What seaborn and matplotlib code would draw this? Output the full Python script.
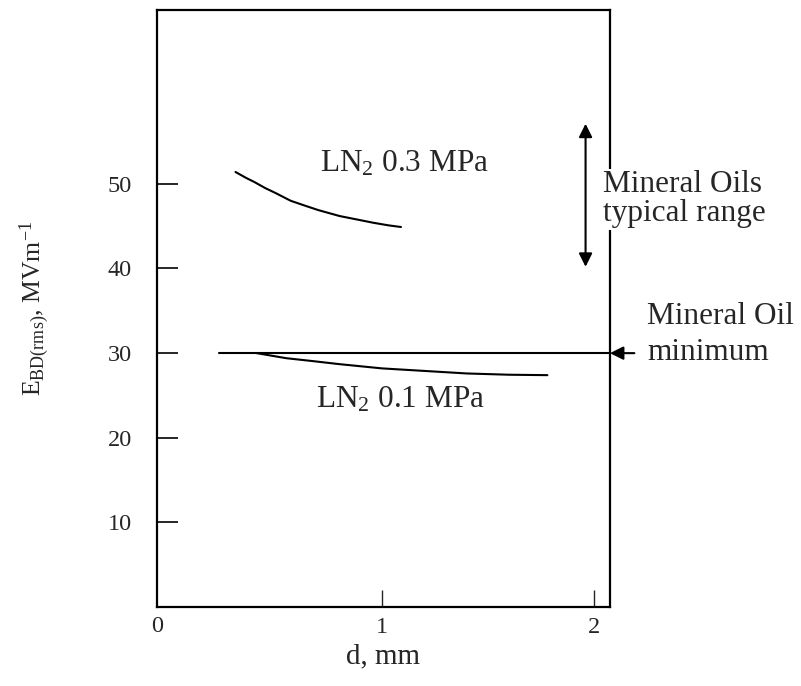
import numpy as np
import pandas as pd
import matplotlib
matplotlib.use("Agg")
import matplotlib.pyplot as plt
import seaborn as sns

# curves
d_03 = [0.31, 0.36, 0.40, 0.45, 0.50, 0.57, 0.64, 0.70, 0.80, 0.88, 0.96, 1.03, 1.09]
e_03 = [51.4, 50.7, 50.2, 49.5, 48.9, 48.0, 47.4, 46.9, 46.2, 45.8, 45.4, 45.1, 44.9]
d_01 = [0.41, 0.48, 0.55, 0.66, 0.80, 0.92, 1.00, 1.20, 1.40, 1.60, 1.78]
e_01 = [30.0, 29.7, 29.4, 29.1, 28.7, 28.4, 28.2, 27.9, 27.6, 27.45, 27.4]
oil_min = 30.0
oil_min_start = 0.23
oil_range = [40.2, 57.1]
oil_range_x = 1.96
yticks = [10, 20, 30, 40, 50]
xticks = [1, 2]

sns.set_theme(style="white")
plt.rcParams['font.family'] = ['Liberation Serif', 'DejaVu Serif']
plt.rcParams['mathtext.fontset'] = 'custom'
plt.rcParams['mathtext.rm'] = 'Liberation Serif'
plt.rcParams['mathtext.it'] = 'Liberation Serif:italic'

fig = plt.figure(figsize=(8.01, 6.86), dpi=100)
ax = fig.add_axes([0.196, 0.115, 0.5655, 0.870])

df03 = pd.DataFrame({'d': d_03, 'E': e_03})
df01 = pd.DataFrame({'d': d_01, 'E': e_01})
sns.lineplot(data=df03, x='d', y='E', color='black', lw=1.5, ax=ax)
sns.lineplot(data=df01, x='d', y='E', color='black', lw=1.5, ax=ax)

ax.set_xlim(-0.06, 2.075)
ax.set_ylim(0, 70.5)

# mineral oil minimum line
ax.plot([oil_min_start, 2.075], [oil_min, oil_min], color='black', lw=1.5)
ax.annotate('', xy=(2.075, oil_min), xytext=(2.19, oil_min),
            arrowprops=dict(arrowstyle='-|>', color='black', lw=1.5,
                            mutation_scale=20, shrinkA=0, shrinkB=0),
            annotation_clip=False)

# typical range double arrow
ax.annotate('', xy=(oil_range_x, oil_range[1]), xytext=(oil_range_x, oil_range[0]),
            arrowprops=dict(arrowstyle='<|-|>', color='black', lw=1.5,
                            mutation_scale=20, shrinkA=0, shrinkB=0))

fs = 22.5
ax.text(0.71, 51.5, r'LN$_2$ 0.3 MPa', fontsize=fs, ha='left', va='baseline')
ax.text(0.69, 23.6, r'LN$_2$ 0.1 MPa', fontsize=fs, ha='left', va='baseline')
ax.text(2.04, 48.2, 'Mineral Oils\ntypical range', fontsize=fs, ha='left', va='center',
        linespacing=1.02, bbox=dict(facecolor='white', edgecolor='none', pad=1))
ax.text(2.25, 32.2, 'Mineral Oil\nminimum', fontsize=fs, ha='left', va='center',
        linespacing=1.28, clip_on=False)

ax.set_yticks(yticks)
ax.set_xticks(xticks)
ax.tick_params(axis='y', direction='in', length=15, width=1.4, pad=18,
               labelsize=17.5, left=True)
ax.tick_params(axis='x', direction='in', length=12, width=1.0, pad=7,
               labelsize=17.5, bottom=True)
ax.text(-0.06, -1.0, '0', fontsize=17.5, ha='center', va='top')

for s in ax.spines.values():
    s.set_color('black')
    s.set_linewidth(1.6)

ax.set_xlabel('d, mm', fontsize=21, labelpad=4)
ax.set_ylabel(r'E$_{\mathregular{BD(rms)}}$, MVm$^{\mathregular{-1}}$', fontsize=18.5, labelpad=40)

fig.savefig('out.png', dpi=100)
